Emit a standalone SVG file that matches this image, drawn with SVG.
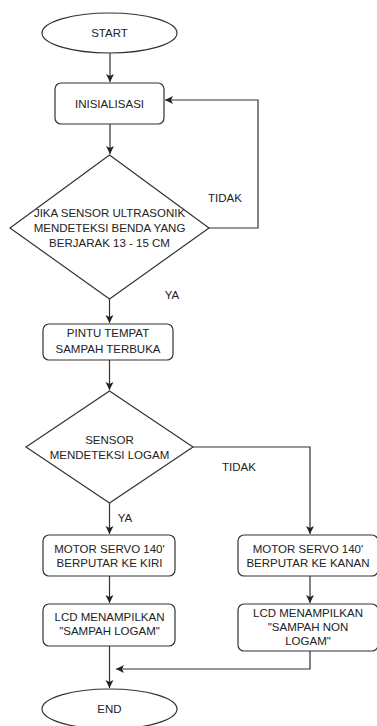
<svg xmlns="http://www.w3.org/2000/svg" width="377" height="726" viewBox="0 0 377 726">
<style>
.s{fill:#fff;stroke:#333;stroke-width:1.2}
.c{fill:none;stroke:#333;stroke-width:1.2}
text{font-family:"Liberation Sans",Arial,sans-serif;font-size:11.5px;fill:#222;text-anchor:middle;dominant-baseline:central}
</style>
<defs>
<marker id="ah" markerUnits="userSpaceOnUse" markerWidth="10" markerHeight="10" refX="8" refY="4" orient="auto">
<path d="M0,0 L8,4 L0,8 L2,4 z" fill="#222"/>
</marker>
</defs>
<rect width="377" height="726" fill="#fff"/>
<g id="connectors">
<path class="c" d="M110,53 V82" marker-end="url(#ah)"/>
<path class="c" d="M110,124 V154" marker-end="url(#ah)"/>
<path class="c" d="M209,228 H258 V100 H165" marker-end="url(#ah)"/>
<path class="c" d="M109.5,299 V323" marker-end="url(#ah)"/>
<path class="c" d="M109.5,360 V390" marker-end="url(#ah)"/>
<path class="c" d="M109.5,503 V534" marker-end="url(#ah)"/>
<path class="c" d="M193,447 H310 V534" marker-end="url(#ah)"/>
<path class="c" d="M109.5,576 V603" marker-end="url(#ah)"/>
<path class="c" d="M310,576 V603" marker-end="url(#ah)"/>
<path class="c" d="M109.5,646 V688" marker-end="url(#ah)"/>
<path class="c" d="M310,651 V669 H116" marker-end="url(#ah)"/>
</g>
<g id="labels">
<text x="225" y="198">TIDAK</text>
<text x="172" y="295">YA</text>
<text x="239" y="467">TIDAK</text>
<text x="125" y="518">YA</text>
</g>
<g id="start">
<ellipse class="s" cx="109.5" cy="33" rx="67.5" ry="20"/>
<text x="109.5" y="33">START</text>
</g>
<g id="init">
<rect class="s" x="55" y="83" width="109" height="41" rx="6"/>
<text x="109.5" y="103.5">INISIALISASI</text>
</g>
<g id="decision1">
<polygon class="s" points="109.5,155 209,228 109.5,299 10,228"/>
<text x="109.5" y="213">JIKA SENSOR ULTRASONIK</text>
<text x="109.5" y="228">MENDETEKSI BENDA YANG</text>
<text x="109.5" y="243">BERJARAK 13 - 15 CM</text>
</g>
<g id="pintu">
<rect class="s" x="43" y="324" width="130" height="36" rx="6"/>
<text x="108" y="333">PINTU TEMPAT</text>
<text x="108" y="349">SAMPAH TERBUKA</text>
</g>
<g id="decision2">
<polygon class="s" points="109.5,391 193,447 109.5,503 26,447"/>
<text x="109.5" y="440">SENSOR</text>
<text x="109.5" y="455">MENDETEKSI LOGAM</text>
</g>
<g id="servo-kiri">
<rect class="s" x="43" y="535" width="132" height="41" rx="6"/>
<text x="109.5" y="549">MOTOR SERVO 140'</text>
<text x="109.5" y="563">BERPUTAR KE KIRI</text>
</g>
<g id="servo-kanan">
<rect class="s" x="238" y="535" width="140" height="41" rx="6"/>
<text x="308" y="549">MOTOR SERVO 140'</text>
<text x="308" y="563">BERPUTAR KE KANAN</text>
</g>
<g id="lcd-logam">
<rect class="s" x="43" y="604" width="132" height="42" rx="6"/>
<text x="109.5" y="617">LCD MENAMPILKAN</text>
<text x="109.5" y="631">"SAMPAH LOGAM"</text>
</g>
<g id="lcd-nonlogam">
<rect class="s" x="238" y="604" width="140" height="47" rx="6"/>
<text x="308" y="613">LCD MENAMPILKAN</text>
<text x="308" y="627">"SAMPAH NON</text>
<text x="308" y="641">LOGAM"</text>
</g>
<g id="end">
<ellipse class="s" cx="109.5" cy="709" rx="67.5" ry="20"/>
<text x="109.5" y="709">END</text>
</g>
</svg>
